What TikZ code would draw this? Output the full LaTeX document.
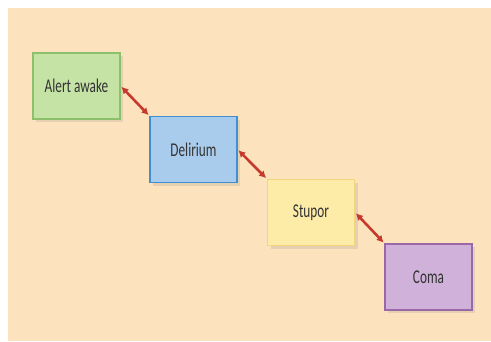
\documentclass[tikz,border=0pt]{standalone}
\usepackage{fontspec}
\setmainfont{Carlito}
\usepackage{tikz}
\usetikzlibrary{arrows.meta,shadows}

\definecolor{paper}{HTML}{FCE3BD}
\definecolor{grnfill}{HTML}{C6E3A6}
\definecolor{grnline}{HTML}{8CC06A}
\definecolor{bluefill}{HTML}{A9CCEC}
\definecolor{blueline}{HTML}{3F8FD2}
\definecolor{yelfill}{HTML}{FDEBA8}
\definecolor{yelline}{HTML}{F2D57C}
\definecolor{purfill}{HTML}{CFB1D9}
\definecolor{purline}{HTML}{9A68A6}
\definecolor{linkred}{HTML}{C63A2E}
\definecolor{txt}{HTML}{333333}

\newcommand{\lbl}[1]{\scalebox{0.68}[1]{#1}}

\tikzset{
  state/.style={draw, line width=1.3pt, minimum width=87pt, minimum height=66pt,
    inner sep=0pt, text=txt, font=\fontsize{19.5}{21}\selectfont,
    drop shadow={shadow xshift=3pt, shadow yshift=-3pt, opacity=0.18}},
  link/.style={draw=linkred, line width=2.6pt,
    {Latex[length=7pt,width=7.5pt]}-{Latex[length=7pt,width=7.5pt]}, shorten <=1pt, shorten >=1pt}
}

\begin{document}
\begin{tikzpicture}[x=1pt,y=1pt]
%%Frame
\useasboundingbox (0,0) rectangle (491,-341);
\fill[paper] (8,-8) rectangle (491,-341);

%%States
\node[state, fill=grnfill, draw=grnline] (alert) at (76.5,-86) {\lbl{Alert awake}};
\node[state, fill=bluefill, draw=blueline] (delirium) at (193.5,-149.5) {\lbl{Delirium}};
\node[state, fill=yelfill, draw=yelline] (stupor) at (311,-212.5) {\lbl{Stupor}};
\node[state, fill=purfill, draw=purline] (coma) at (428.5,-277) {\lbl{Coma}};

%%Links
\draw[link] (alert.east) -- (delirium.north west);
\draw[link] (delirium.east) -- (stupor.north west);
\draw[link] (stupor.east) -- (coma.north west);

\end{tikzpicture}
\end{document}
